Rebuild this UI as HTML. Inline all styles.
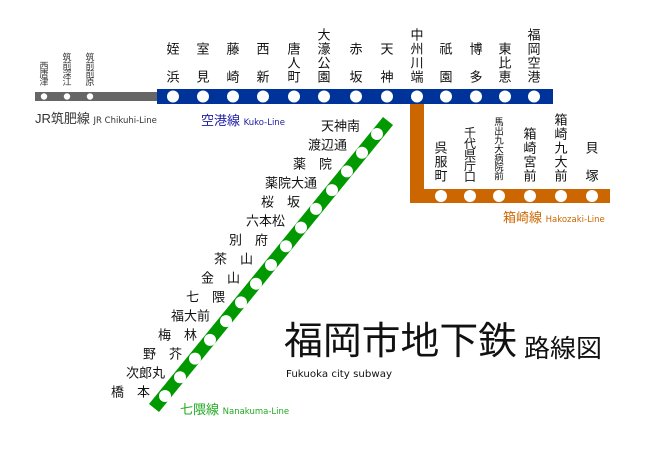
<!DOCTYPE html>
<html><head><meta charset="utf-8"><style>
html,body{margin:0;padding:0;background:#fff;}
svg{display:block;font-family:"Liberation Sans","Noto Sans CJK JP",sans-serif;}
.lat{font-family:"DejaVu Sans",sans-serif;}
</style></head><body>
<svg width="661" height="464" viewBox="0 0 661 464" xmlns="http://www.w3.org/2000/svg">
<rect width="661" height="464" fill="#fff"/>
<!-- JR line -->
<rect x="35" y="92" width="124" height="9" fill="#666"/>
<g fill="#fff"><circle cx="44" cy="96.5" r="3.2"/><circle cx="67" cy="96.5" r="3.2"/><circle cx="90" cy="96.5" r="3.2"/></g>
<!-- Orange -->
<rect x="410" y="100" width="14" height="103" fill="#cc6600"/>
<rect x="410" y="189" width="200" height="14" fill="#cc6600"/>
<g fill="#fff">
<circle cx="441" cy="196" r="6"/><circle cx="470" cy="196" r="6"/><circle cx="499" cy="196" r="6"/><circle cx="530" cy="196" r="6"/><circle cx="561" cy="196" r="6"/><circle cx="592" cy="196" r="6"/></g>
<!-- Blue -->
<rect x="157" y="89" width="396" height="15" fill="#003399"/>
<g fill="#fff">
<circle cx="173" cy="96.5" r="6"/><circle cx="203" cy="96.5" r="6"/><circle cx="233" cy="96.5" r="6"/><circle cx="263" cy="96.5" r="6"/><circle cx="294" cy="96.5" r="6"/><circle cx="324" cy="96.5" r="6"/><circle cx="356" cy="96.5" r="6"/><circle cx="387" cy="96.5" r="6"/><circle cx="417" cy="96.5" r="6"/><circle cx="446" cy="96.5" r="6"/><circle cx="476" cy="96.5" r="6"/><circle cx="505" cy="96.5" r="6"/><circle cx="534" cy="96.5" r="6"/></g>
<!-- Green -->
<polygon points="383,117 393,125 159,412 149,404" fill="#009900"/>
<g fill="#fff">
<circle cx="377" cy="134" r="6"/><circle cx="362" cy="152.7" r="6"/><circle cx="347" cy="171.4" r="6"/><circle cx="332" cy="190.1" r="6"/><circle cx="316" cy="208.9" r="6"/><circle cx="301" cy="227.6" r="6"/><circle cx="286" cy="246.3" r="6"/><circle cx="271" cy="265" r="6"/><circle cx="256" cy="283.7" r="6"/><circle cx="241" cy="302.4" r="6"/><circle cx="226" cy="321.1" r="6"/><circle cx="210" cy="339.9" r="6"/><circle cx="195" cy="358.6" r="6"/><circle cx="180" cy="377.3" r="6"/><circle cx="165" cy="396" r="6"/></g>

<!-- JR labels -->
<g font-size="9" fill="#333" text-anchor="middle" dominant-baseline="central">
<text x="44" y="66">西</text><text x="44" y="74">唐</text><text x="44" y="82">津</text>
<text x="67" y="57.5">筑</text><text x="67" y="66">前</text><text x="67" y="74">深</text><text x="67" y="82">江</text>
<text x="90" y="57.5">筑</text><text x="90" y="66">前</text><text x="90" y="74">前</text><text x="90" y="82">原</text>
</g>
<!-- Blue labels -->
<g font-size="13" fill="#111" text-anchor="middle" dominant-baseline="central">
<text x="173" y="49">姪</text><text x="173" y="77">浜</text>
<text x="203" y="49">室</text><text x="203" y="77">見</text>
<text x="233" y="49">藤</text><text x="233" y="77">崎</text>
<text x="263" y="49">西</text><text x="263" y="77">新</text>
<text x="294" y="49">唐</text><text x="294" y="63">人</text><text x="294" y="77">町</text>
<text x="324" y="35">大</text><text x="324" y="49">濠</text><text x="324" y="63">公</text><text x="324" y="77">園</text>
<text x="356" y="49">赤</text><text x="356" y="77">坂</text>
<text x="387" y="49">天</text><text x="387" y="77">神</text>
<text x="417" y="35">中</text><text x="417" y="49">州</text><text x="417" y="63">川</text><text x="417" y="77">端</text>
<text x="446" y="49">祇</text><text x="446" y="77">園</text>
<text x="476" y="49">博</text><text x="476" y="77">多</text>
<text x="505" y="49">東</text><text x="505" y="63">比</text><text x="505" y="77">恵</text>
<text x="534" y="35">福</text><text x="534" y="49">岡</text><text x="534" y="63">空</text><text x="534" y="77">港</text>
</g>
<!-- Orange labels -->
<g fill="#111" text-anchor="middle" dominant-baseline="central">
<g font-size="13">
<text x="441" y="148">呉</text><text x="441" y="162">服</text><text x="441" y="176">町</text>
<text x="530" y="134">箱</text><text x="530" y="148">崎</text><text x="530" y="162">宮</text><text x="530" y="176">前</text>
<text x="561" y="120">箱</text><text x="561" y="134">崎</text><text x="561" y="148">九</text><text x="561" y="162">大</text><text x="561" y="176">前</text>
<text x="592" y="148">貝</text><text x="592" y="176">塚</text>
</g>
<g font-size="12">
<text x="470" y="133">千</text><text x="470" y="144">代</text><text x="470" y="155">県</text><text x="470" y="166">庁</text><text x="470" y="177">口</text>
</g>
<g font-size="9.5">
<text x="499" y="123">馬</text><text x="499" y="132">出</text><text x="499" y="141">九</text><text x="499" y="150">大</text><text x="499" y="159">病</text><text x="499" y="168">院</text><text x="499" y="177">前</text>
</g>
</g>
<!-- Green labels -->
<g font-size="13" fill="#111" text-anchor="end" dominant-baseline="central">
<text x="360" y="126">天神南</text>
<text x="347" y="145">渡辺通</text>
<text x="332" y="164">薬　院</text>
<text x="317" y="183">薬院大通</text>
<text x="300" y="202">桜　坂</text>
<text x="285" y="221">六本松</text>
<text x="268" y="240">別　府</text>
<text x="253" y="259">茶　山</text>
<text x="240" y="278">金　山</text>
<text x="225" y="297">七　隈</text>
<text x="210" y="316">福大前</text>
<text x="197" y="335">梅　林</text>
<text x="182" y="354">野　芥</text>
<text x="165" y="373">次郎丸</text>
<text x="150" y="392">橋　本</text>
</g>
<!-- Line names -->
<text x="35" y="123" font-size="13" fill="#333">JR筑肥線 <tspan class="lat" font-size="8.5">JR Chikuhi-Line</tspan></text>
<text x="201" y="125" font-size="13" fill="#1a1aa0">空港線 <tspan class="lat" font-size="8.5">Kuko-Line</tspan></text>
<text x="503" y="222" font-size="13" fill="#cc6600">箱崎線 <tspan class="lat" font-size="8.5">Hakozaki-Line</tspan></text>
<text x="180" y="414" font-size="13" fill="#22aa22">七隈線 <tspan class="lat" font-size="8.5">Nanakuma-Line</tspan></text>
<!-- Title -->
<text x="284" y="354" font-size="38" fill="#111" textLength="233" lengthAdjust="spacingAndGlyphs" style="font-family:'Liberation Sans','Noto Sans CJK JP',sans-serif">福岡市地下鉄</text>
<text x="524" y="357" font-size="25" fill="#111" textLength="78" lengthAdjust="spacingAndGlyphs">路線図</text>
<text class="lat" x="286" y="377" font-size="10" fill="#111" textLength="106" lengthAdjust="spacingAndGlyphs">Fukuoka city subway</text>
</svg>
</body></html>
